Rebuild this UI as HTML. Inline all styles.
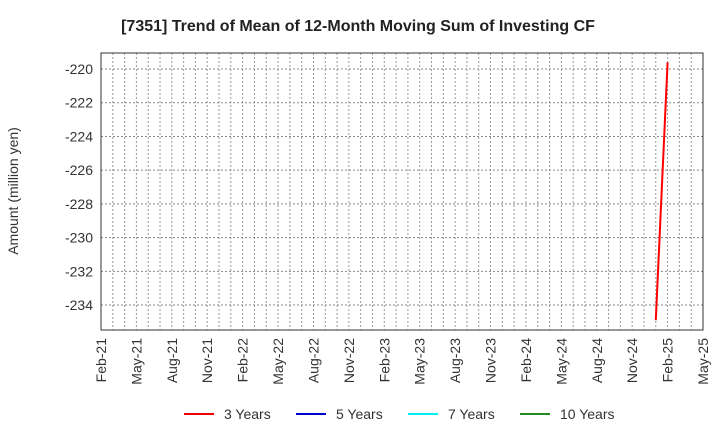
<!DOCTYPE html>
<html><head><meta charset="utf-8"><style>
body{margin:0;background:#fff;font-family:"Liberation Sans",Arial,sans-serif}
</style></head><body>
<svg id="c" width="720" height="440" xmlns="http://www.w3.org/2000/svg">
<text x="358" y="31" text-anchor="middle" font-size="16" font-weight="bold" fill="#222">[7351]  Trend of Mean of 12-Month Moving Sum of Investing CF</text>
<text transform="translate(18,191) rotate(-90)" text-anchor="middle" font-size="14" fill="#333">Amount (million yen)</text>
<g id="grid"></g><g id="ticks"></g><g id="series"></g>
<rect x="101" y="53" width="602" height="277" fill="none" stroke="#333" stroke-width="1"/>
<g id="legend"></g>
</svg>
<script>
const xLabels=["Feb-21","May-21","Aug-21","Nov-21","Feb-22","May-22","Aug-22","Nov-22","Feb-23","May-23","Aug-23","Nov-23","Feb-24","May-24","Aug-24","Nov-24","Feb-25","May-25"];
const yTicks=[-220,-222,-224,-226,-228,-230,-232,-234];
const months3=[47,48]; // month index from Feb-21
const values3=[-234.9,-219.6];
const legendNames=["3 Years","5 Years","7 Years","10 Years"];
const legendColors=["#e00","#00c","#0ee","#282"];
const NS="http://www.w3.org/2000/svg";
const L=101,R=703,T=53,B=330,ymin=-235.48,ymax=-219.05,nMonths=51;
const xs=m=>L+(R-L)*m/nMonths;
const ys=v=>B-(B-T)*(v-ymin)/(ymax-ymin);
function mk(t,a,p){const e=document.createElementNS(NS,t);for(const k in a)e.setAttribute(k,a[k]);p.appendChild(e);return e;}
const g=document.getElementById('grid'),tk=document.getElementById('ticks');
for(let m=1;m<nMonths;m++){const l=mk('line',{x1:xs(m),x2:xs(m),y1:T,y2:B,stroke:'#999','stroke-dasharray':'2,2'},g);

}
yTicks.forEach(v=>{const l=mk('line',{x1:L,x2:R,y1:ys(v),y2:ys(v),stroke:'#888','stroke-dasharray':'2,2'},g);


const t=mk('text',{x:L-8,y:ys(v)+5,'text-anchor':'end','font-size':14,fill:'#333'},tk);t.textContent=v;

});
xLabels.forEach((s,i)=>{const x=xs(i*3);const t=mk('text',{transform:`translate(${x+5},338) rotate(-90)`,'text-anchor':'end','font-size':14,fill:'#333'},tk);t.textContent=s;

});
const pts=months3.map((m,i)=>xs(m)+','+ys(values3[i])).join(' ');
const pl=mk('polyline',{points:pts,fill:'none',stroke:'#f00','stroke-width':2},document.getElementById('series'));


const lg=document.getElementById('legend');const lx=[184,296,408,520];
legendNames.forEach((n,i)=>{const l=mk('line',{x1:lx[i],x2:lx[i]+30,y1:414,y2:414,stroke:legendColors[i],'stroke-width':2},lg);


const t=mk('text',{x:lx[i]+40,y:419,'font-size':14,fill:'#333'},lg);t.textContent=n;

});
</script>
</body></html>
